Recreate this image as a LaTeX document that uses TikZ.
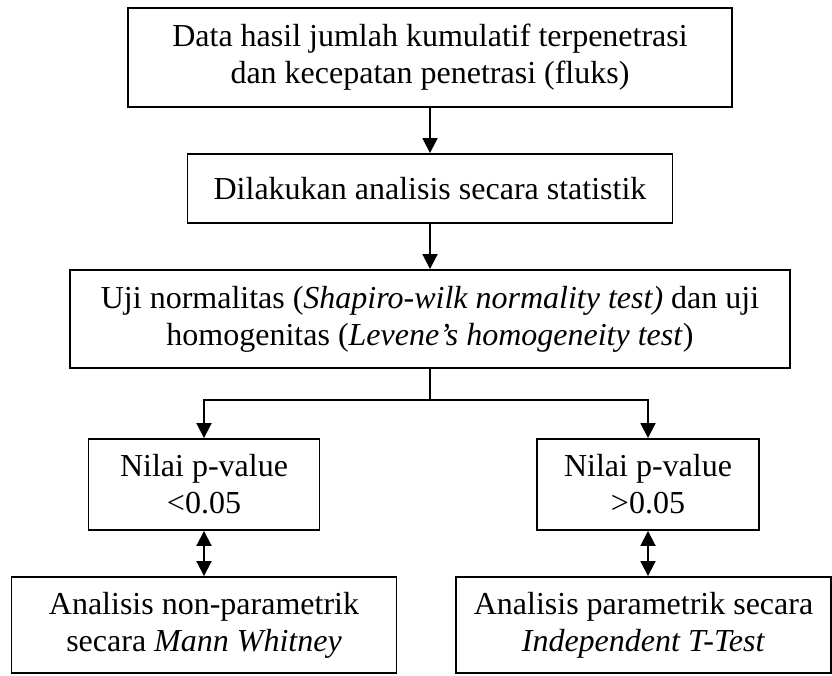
\documentclass[tikz,border=0pt]{standalone}
\usepackage{fontspec}
\setmainfont{Liberation Serif}
\usepackage{tikz}
\usetikzlibrary{arrows.meta,positioning,calc}

\begin{document}
\begin{tikzpicture}[
    x=1pt, y=-1pt,
    kotak/.style={rectangle, draw, line width=1.9pt, inner sep=0pt, align=center,
        font=\fontsize{32}{37}\selectfont},
    >={Triangle[length=15pt, width=15pt]}, line width=1.9pt
]
    \useasboundingbox (0,0) rectangle (832,675);

    % Alur atas
    \node[kotak, minimum width=604pt, minimum height=99pt] (data) at (430,57.5)
        {Data hasil jumlah kumulatif terpenetrasi\\dan kecepatan penetrasi (fluks)};
    \node[kotak, minimum width=485pt, minimum height=69pt] (analisis) at (430,188.5)
        {Dilakukan analisis secara statistik};
    \node[kotak, minimum width=720pt, minimum height=98pt] (uji) at (430,319)
        {Uji normalitas (\textit{Shapiro-wilk normality test)} dan uji\\homogenitas (\textit{Levene's homogeneity test})};

    \draw[->] (data) -- (analisis);
    \draw[->] (analisis) -- (uji);

    % Cabang p-value
    \coordinate (cabang) at (430,400);
    \node[kotak, minimum width=231pt, minimum height=91pt] (pkecil) at (204,484.5)
        {Nilai p-value\\<0.05};
    \node[kotak, minimum width=222pt, minimum height=91pt] (pbesar) at (648,484.5)
        {Nilai p-value\\>0.05};

    \draw (uji.south) -- (cabang);
    \draw[->] (cabang) -| (pkecil.north);
    \draw[->] (cabang) -| (pbesar.north);

    % Hasil analisis
    \node[kotak, minimum width=385pt, minimum height=96pt] (nonpar) at (204,625)
        {Analisis non-parametrik\\secara \textit{Mann Whitney}};
    \node[kotak, minimum width=375pt, minimum height=96pt] (par) at (643.5,625)
        {Analisis parametrik secara\\\textit{Independent T-Test}};

    \draw[<->] (pkecil.south) -- (pkecil.south |- nonpar.north);
    \draw[<->] (pbesar.south) -- (pbesar.south |- par.north);
\end{tikzpicture}
\end{document}
